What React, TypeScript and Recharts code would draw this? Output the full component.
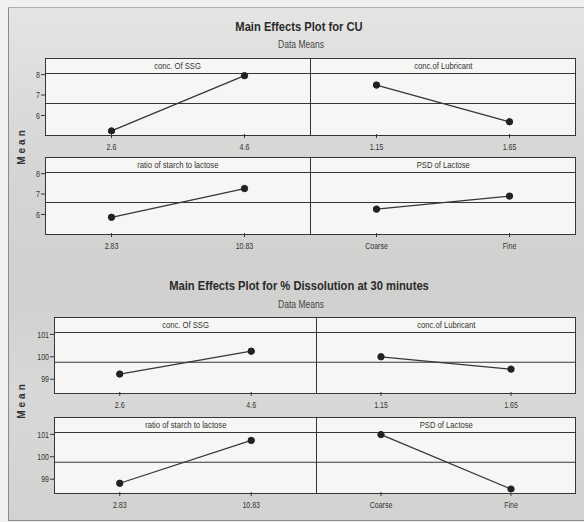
// @ts-nocheck
import { LineChart, Line, XAxis, YAxis, ReferenceLine } from 'recharts';

// factor levels
const ssgLevels = ['2.6', '4.6'];
const lubricantLevels = ['1.15', '1.65'];
const ratioLevels = ['2.83', '10.83'];
const psdLevels = ['Coarse', 'Fine'];

const factorNames = ['conc. Of SSG', 'conc.of Lubricant', 'ratio of starch to lactose', 'PSD of Lactose'];

// CU means
const cuSsg = [5.24, 7.95];
const cuLubricant = [7.49, 5.69];
const cuRatio = [5.86, 7.27];
const cuPsd = [6.26, 6.9];
const cuTicks = [6, 7, 8];
const cuDomain = [5.09, 8.13];

// % dissolution at 30 min means
const dissSsg = [99.23, 100.25];
const dissLubricant = [100.0, 99.45];
const dissRatio = [98.82, 100.73];
const dissPsd = [100.99, 98.56];
const dissTicks = [99, 100, 101];
const dissDomain = [98.43, 101.15];

const INK = '#363636';
const FONT = "'Liberation Sans', Arial, sans-serif";
const TOP_PAD = 8; // room above the plot so the top tick label isn't clipped

const toRows = (levels, means) => levels.map((level, i) => ({ level, mean: means[i] }));

// minitab's tick labels are very narrow, squeeze them horizontally
function XTick({ x, y, payload }) {
  return (
    <text
      x={x}
      y={y}
      dy="0.71em"
      textAnchor="middle"
      fontSize={9}
      fill="#333"
      transform={`translate(${x},0) scale(0.78,1) translate(${-x},0)`}
    >
      {payload.value}
    </text>
  );
}

function YTick({ x, y, payload }) {
  return (
    <text
      x={x}
      y={y}
      dy="0.355em"
      textAnchor="end"
      fontSize={9}
      fill="#333"
      transform={`translate(${x},0) scale(0.78,1) translate(${-x},0)`}
    >
      {payload.value}
    </text>
  );
}

function Panel({ levels, means, label, x, w, top, stripH, plotH, domain, ticks, grandMean, yAxisW, showY }) {
  const data = toRows(levels, means);
  const axisW = showY ? yAxisW : 0;
  return (
    <>
      <div
        style={{
          position: 'absolute',
          left: x,
          top,
          width: w,
          height: stripH + plotH + 1,
          border: `1px solid ${INK}`,
          boxSizing: 'border-box',
          background: '#f6f6f4',
        }}
      >
        <div
          style={{
            height: stripH,
            borderBottom: `1px solid ${INK}`,
            boxSizing: 'border-box',
            textAlign: 'center',
            fontSize: 9,
            lineHeight: `${stripH - 1}px`,
            color: '#333',
          }}
        >
          <span style={{ display: 'inline-block', transform: 'scaleX(0.85)' }}>{label}</span>
        </div>
      </div>
      <div style={{ position: 'absolute', left: x - axisW, top: top + stripH - 1 - TOP_PAD }}>
        <LineChart
          width={w + axisW}
          height={plotH + 26 + TOP_PAD}
          data={data}
          margin={{ top: TOP_PAD, right: 0, bottom: 0, left: 0 }}
          style={{ fontFamily: FONT }}
        >
          <XAxis
            dataKey="level"
            interval={0}
            padding={{ left: w / 4, right: w / 4 }}
            axisLine={false}
            tickLine={{ stroke: INK }}
            tickSize={4}
            tickMargin={6}
            height={26}
            tick={<XTick />}
          />
          <YAxis
            type="number"
            hide={!showY}
            width={yAxisW}
            domain={domain}
            ticks={ticks}
            interval={0}
            allowDataOverflow
            axisLine={false}
            tickLine={{ stroke: INK }}
            tickSize={4}
            tickMargin={1}
            tick={<YTick />}
          />
          <ReferenceLine y={grandMean} stroke={INK} strokeWidth={1.1} />
          <Line
            dataKey="mean"
            stroke={INK}
            strokeWidth={1.3}
            dot={{ r: 3.2, fill: '#222', stroke: '#222', strokeWidth: 1 }}
            isAnimationActive={false}
          />
        </LineChart>
      </div>
    </>
  );
}

function EffectsBlock({ title, titleY, subY, meanY, series, domain, ticks, geo }) {
  const all = series.flat();
  const grandMean = all.reduce((a, b) => a + b, 0) / all.length;
  const levels = [ssgLevels, lubricantLevels, ratioLevels, psdLevels];
  const cols = [
    { x: geo.left, w: geo.divider - geo.left + 1 },
    { x: geo.divider, w: geo.right - geo.divider },
  ];
  return (
    <>
      <div
        style={{
          position: 'absolute',
          left: 299,
          top: titleY,
          transform: 'translateX(-50%) scaleX(0.86)',
          whiteSpace: 'nowrap',
          fontSize: 13,
          fontWeight: 'bold',
          color: '#2a2a2a',
          lineHeight: '16px',
        }}
      >
        {title}
      </div>
      <div
        style={{
          position: 'absolute',
          left: 301,
          top: subY,
          transform: 'translateX(-50%) scaleX(0.85)',
          whiteSpace: 'nowrap',
          fontSize: 10,
          color: '#444',
          lineHeight: '12px',
        }}
      >
        Data Means
      </div>
      <div
        style={{
          position: 'absolute',
          left: 21,
          top: meanY,
          transform: 'translate(-50%, -50%) rotate(-90deg)',
          fontSize: 10,
          fontWeight: 'bold',
          letterSpacing: 3,
          color: '#333',
        }}
      >
        Mean
      </div>
      {series.map((means, i) => {
        const row = Math.floor(i / 2);
        const col = cols[i % 2];
        return (
          <Panel
            key={i}
            levels={levels[i]}
            means={means}
            label={factorNames[i]}
            x={col.x}
            w={col.w}
            top={geo.rows[row]}
            stripH={geo.stripH}
            plotH={geo.plotH}
            domain={domain}
            ticks={ticks}
            grandMean={grandMean}
            yAxisW={geo.yAxisW}
            showY={i % 2 === 0}
          />
        );
      })}
    </>
  );
}

export default function App() {
  return (
    <div
      style={{
        position: 'fixed',
        left: 0,
        top: 0,
        width: 584,
        height: 522,
        background: '#f0f0ee',
        fontFamily: FONT,
        overflow: 'hidden',
      }}
    >
      <div
        style={{
          position: 'absolute',
          left: 8,
          top: 7,
          width: 576,
          height: 514,
          borderLeft: '1px solid #8a8a8a',
          borderTop: '1px solid #b0b0b0',
          borderBottom: '1px solid #8a8a8a',
          boxSizing: 'border-box',
          background: 'linear-gradient(180deg, #e4e4e2 0%, #d6d6d4 30%, #d0d0ce 55%, #d8d8d6 75%, #d2d2d0 100%)',
        }}
      />
      <EffectsBlock
        title="Main Effects Plot for CU"
        titleY={19}
        subY={39}
        meanY={146}
        series={[cuSsg, cuLubricant, cuRatio, cuPsd]}
        domain={cuDomain}
        ticks={cuTicks}
        geo={{ left: 45, divider: 310, right: 576, rows: [58, 157], stripH: 15, plotH: 62, yAxisW: 40 }}
      />
      <EffectsBlock
        title="Main Effects Plot for % Dissolution at 30 minutes"
        titleY={278}
        subY={299}
        meanY={400}
        series={[dissSsg, dissLubricant, dissRatio, dissPsd]}
        domain={dissDomain}
        ticks={dissTicks}
        geo={{ left: 54, divider: 316, right: 576, rows: [317, 417], stripH: 15, plotH: 61, yAxisW: 50 }}
      />
    </div>
  );
}
